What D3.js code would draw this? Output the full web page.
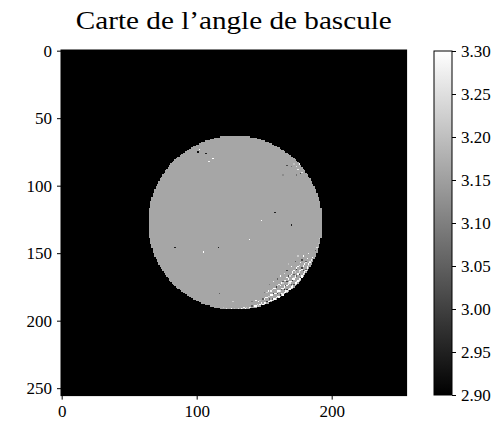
<!DOCTYPE html>
<html><head><meta charset="utf-8">
<script src="https://cdn.jsdelivr.net/npm/d3@7"></script>
<style>html,body{margin:0;padding:0;background:#fff;}svg{display:block;}</style>
</head><body>
<script>
// ---- data ----
const titleText = "Carte de l\u2019angle de bascule";
const gridSize = 256;
const xTicks = [0, 100, 200];
const yTicks = [0, 50, 100, 150, 200, 250];
const cbTicks = [2.90, 2.95, 3.00, 3.05, 3.10, 3.15, 3.20, 3.25, 3.30];
const colorDomain = [2.90, 3.30];
const backgroundValue = 0.0;           // outside the circular mask (clipped to black)
const diskCenter = [128.5, 127.5];     // [col, row]
const diskRadius = 64.5;
const diskValue = 3.16;
// individual pixels that differ from the disk value [col, row, value]
const isolatedPixels = [
  [102,73,3.30],[101,75,2.92],[107,76,2.95],[112,80,3.30],[109,82,3.28],
  [158,120,2.95],[148,126,3.30],[170,129,2.95],[139,140,3.30],[105,149,3.30],
  [116,146,2.95],[84,146,2.95]
];
const upperClusterPixels = [
  [167,85,3.02],[170,86,3.08],[174,86,3.25],[176,84,3.30],[178,90,3.25],
  [174,92,3.08],[164,92,3.12],[177,91,3.00],[172,84,3.20],[175,88,3.28]
];
const edgeNoisePixels = [
  [186,153,3.30],[185,155,3.28],[184,157,3.30],[183,159,3.22],[182,161,3.30],[181,162,3.05],
  [180,164,3.30],[179,165,3.27],[178,167,3.30],[177,168,3.00],[176,169,3.30],[175,170,3.30],
  [174,171,3.25],[173,172,3.30],[172,173,3.02],[171,174,3.30],[170,175,3.30],[169,176,3.28],
  [168,177,3.30],[167,177,3.00],[166,178,3.30],[165,179,3.30],[164,180,3.25],[163,180,3.30],
  [162,181,2.98],[161,182,3.30],[160,182,3.30],[159,183,3.28],[157,184,3.30],[156,184,3.05],
  [155,185,3.30],[153,186,3.30],[152,186,3.00],[150,187,3.30],[148,187,3.28],[147,188,3.30],
  [145,188,3.25],[143,189,3.30],[141,189,3.05],[139,190,3.30],[137,190,3.22],[135,190,3.28],
  [133,191,3.30],[131,191,3.25],[128,191,3.20],[126,191,3.30],
  [183,150,3.28],[182,154,3.30],[181,156,3.05],[180,158,3.30],[179,160,3.30],[178,161,3.00],
  [177,163,3.30],[176,164,3.25],[175,166,3.30],[174,167,3.05],[173,168,3.30],[172,169,3.30],
  [171,170,2.98],[170,171,3.30],[169,172,3.27],[168,173,3.30],[166,174,3.02],[165,175,3.30],
  [164,176,3.30],[163,177,3.05],[161,178,3.30],[160,179,3.25],[158,180,3.30],[157,180,3.00],
  [155,181,3.30],[153,182,3.25],[151,183,3.30],[149,184,3.05],[147,185,3.20],[144,185,3.30],
  [141,186,3.10],
  [179,152,3.30],[178,155,3.02],[177,157,3.28],[175,160,3.30],[174,162,3.00],[172,163,3.30],
  [171,165,3.25],[170,166,3.30],[168,167,3.02],[167,168,3.30],[166,170,3.30],[164,171,3.05],
  [163,172,3.30],[161,173,3.28],[159,175,3.00],[158,176,3.30],[156,177,3.25],[153,178,3.30],
  [150,179,3.10],
  [175,152,3.22],[173,156,3.05],[170,160,3.30],[167,163,3.00],[165,165,3.25],[162,167,3.30],
  [160,169,3.05],[157,171,3.28],[154,173,3.10],[168,158,3.20],
  [189,146,3.25],[190,143,3.20],[188,148,3.05],[191,139,3.22],
  [122,191,3.25],[120,190,3.20],[117,180,3.05],[127,186,3.22],
  [184,156,3.25],[183,158,3.30],[182,160,3.28],[181,163,3.30],[180,165,3.22],[179,166,3.30],
  [178,168,3.30],[177,169,3.28],[176,170,3.25],[175,171,3.30],[174,172,3.30],[173,173,3.27],
  [171,175,3.30],[170,176,3.25],[169,177,3.30],[167,178,3.28],[166,179,3.30],[164,181,3.30],
  [163,181,3.22],[161,183,3.28],[158,184,3.30],[156,185,3.25],[154,186,3.30],[151,187,3.28],
  [149,188,3.30],[146,189,3.22],[144,189,3.30],[140,190,3.25],[136,191,3.30],[134,191,3.22],
  [181,157,3.25],[179,159,3.28],[178,162,3.30],[176,163,3.27],[175,165,3.30],[173,167,3.28],
  [172,168,3.22],[171,169,3.30],[169,171,3.30],[168,172,3.25],[167,174,3.30],[165,174,3.28],
  [163,176,3.30],[162,178,3.25],[160,178,3.30],[159,180,3.28],[156,181,3.30],[154,182,3.22],
  [152,183,3.30],[150,184,3.28],[146,186,3.30],
  [176,159,3.25],[174,161,3.30],[173,164,3.22],[171,164,3.30],[169,167,3.25],[168,169,3.30],
  [165,170,3.28],[164,172,3.22],[162,174,3.30],[160,174,3.25],[157,176,3.30],[155,178,3.28],
  [152,179,3.22],
  [179,163,3.00],[176,166,2.98],[170,173,3.02],[165,177,2.95],[160,180,3.00],[154,184,3.05],
  [172,166,3.05],[167,171,3.00]
];

// ---- layout ----
const W = 503, H = 428;
const plotLeft = 61, plotTop = 50, cell = 1.35;
const plotSize = gridSize * cell;
const cbX = 434, cbW = 18, cbTop = 51, cbBottom = 395;
const fontFam = "'Liberation Serif','DejaVu Serif',serif";

const svg = d3.select("body").append("svg").attr("width", W).attr("height", H)
  .style("background", "#fff");

const x = d3.scaleLinear().domain([-0.5, gridSize - 0.5]).range([plotLeft, plotLeft + plotSize]);
const y = d3.scaleLinear().domain([-0.5, gridSize - 0.5]).range([plotTop, plotTop + plotSize]);
const color = d3.scaleLinear().domain(colorDomain).range(["#000000", "#ffffff"]).clamp(true);

// title
svg.append("text")
  .attr("x", (plotLeft + plotLeft + plotSize) / 2)
  .attr("y", 29)
  .attr("text-anchor", "middle")
  .attr("font-family", fontFam)
  .attr("font-size", 25)
  .attr("textLength", 316)
  .attr("lengthAdjust", "spacingAndGlyphs")
  .attr("fill", "#000")
  .text(titleText);

// image
const img = svg.append("g").attr("shape-rendering", "crispEdges");
img.append("rect")
  .attr("x", x(-0.5)).attr("y", y(-0.5))
  .attr("width", x(gridSize - 0.5) - x(-0.5)).attr("height", y(gridSize - 0.5) - y(-0.5))
  .attr("fill", color(backgroundValue));

// disk rows (circular mask)
const rowSpans = [];
for (let r = 0; r < gridSize; r++) {
  const dy = r - diskCenter[1];
  if (Math.abs(dy) > diskRadius) continue;
  const half = Math.sqrt(diskRadius * diskRadius - dy * dy);
  const c0 = Math.ceil(diskCenter[0] - half), c1 = Math.floor(diskCenter[0] + half);
  if (c1 >= c0) rowSpans.push({ r, c0, c1 });
}
img.selectAll("rect.row").data(rowSpans).enter().append("rect")
  .attr("class", "row")
  .attr("x", d => x(d.c0 - 0.5))
  .attr("width", d => x(d.c1 + 0.5) - x(d.c0 - 0.5))
  .attr("y", d => y(d.r - 0.5))
  .attr("height", d => y(d.r + 0.5) - y(d.r - 0.5))
  .attr("fill", color(diskValue));

const pixels = isolatedPixels.concat(upperClusterPixels, edgeNoisePixels);
img.selectAll("rect.px").data(pixels).enter().append("rect")
  .attr("class", "px")
  .attr("x", d => x(d[0] - 0.5))
  .attr("width", d => x(d[0] + 0.5) - x(d[0] - 0.5))
  .attr("y", d => y(d[1] - 0.5))
  .attr("height", d => y(d[1] + 0.5) - y(d[1] - 0.5))
  .attr("fill", d => color(d[2]));

// spines
svg.append("rect")
  .attr("x", x(-0.5)).attr("y", y(-0.5))
  .attr("width", plotSize).attr("height", plotSize)
  .attr("fill", "none").attr("stroke", "#000").attr("stroke-width", 1);

// axes
function styleAxis(g) {
  g.select(".domain").remove();
  g.selectAll("text").attr("font-family", fontFam).attr("font-size", 17).attr("fill", "#000");
  g.selectAll("line").attr("stroke", "#000");
}
svg.append("g")
  .attr("transform", `translate(0,${plotTop + plotSize})`)
  .call(d3.axisBottom(x).tickValues(xTicks).tickSize(4).tickPadding(5).tickFormat(d3.format("d")))
  .call(styleAxis);
svg.append("g")
  .attr("transform", `translate(${plotLeft},0)`)
  .call(d3.axisLeft(y).tickValues(yTicks).tickSize(4).tickPadding(5).tickFormat(d3.format("d")))
  .call(styleAxis);

// colorbar
const defs = svg.append("defs");
const grad = defs.append("linearGradient").attr("id", "cbgrad")
  .attr("x1", 0).attr("y1", 1).attr("x2", 0).attr("y2", 0);
d3.range(0, 1.0001, 0.1).forEach(t => {
  const v = colorDomain[0] + t * (colorDomain[1] - colorDomain[0]);
  grad.append("stop").attr("offset", t).attr("stop-color", color(v));
});
const cbScale = d3.scaleLinear().domain(colorDomain).range([cbBottom, cbTop]);
svg.append("rect")
  .attr("x", cbX).attr("y", cbTop).attr("width", cbW).attr("height", cbBottom - cbTop)
  .attr("fill", "url(#cbgrad)").attr("stroke", "#000").attr("stroke-width", 1);
svg.append("g")
  .attr("transform", `translate(${cbX + cbW},0)`)
  .call(d3.axisRight(cbScale).tickValues(cbTicks).tickSize(4).tickPadding(5).tickFormat(d3.format(".2f")))
  .call(styleAxis);
</script>
</body></html>
